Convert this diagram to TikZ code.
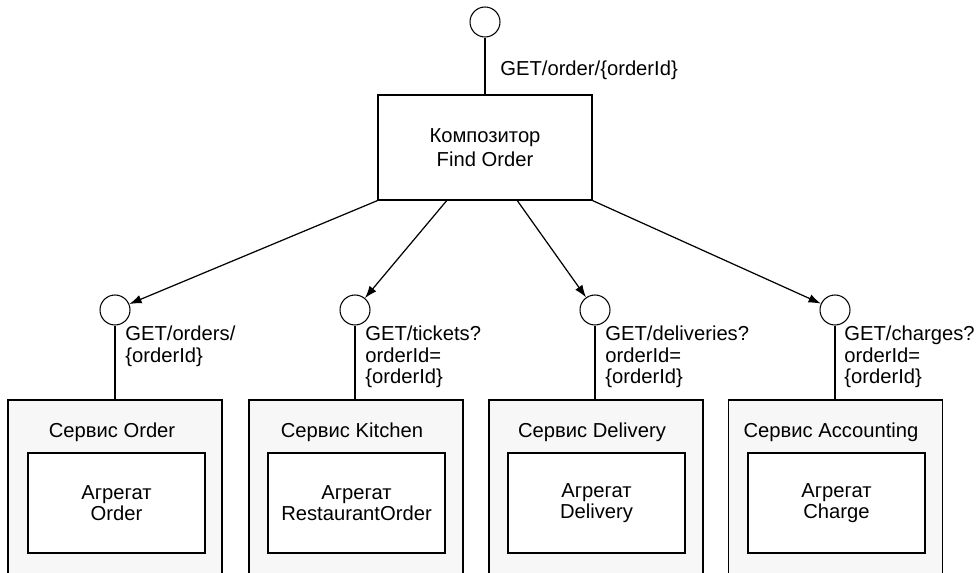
\documentclass[tikz,border=0pt]{standalone}
\usepackage{fontspec}
\setmainfont{Liberation Sans}
\usetikzlibrary{positioning,arrows.meta,calc}
\tikzset{
  >={Latex[length=7pt,width=5pt]},
}

\begin{document}
\begin{tikzpicture}[
  x=0.02cm,y=-0.02cm,
  every node/.style={font=\fontsize{11.5}{12}\selectfont},
  port/.style={draw,circle,minimum size=0.6cm,inner sep=0pt,line width=0.6pt},
  comp/.style={draw,line width=0.7pt,minimum width=4.28cm,minimum height=2.1cm,align=center},
  svc/.style={draw,line width=0.7pt,fill=black!3,minimum width=4.28cm,minimum height=4cm},
  agg/.style={draw,line width=0.7pt,fill=white,minimum width=3.54cm,minimum height=2cm,align=center},
  ttl/.style={inner sep=0pt},
  lab/.style={align=left,inner sep=0pt,anchor=north west},
  wire/.style={line width=0.6pt},
  call/.style={->,line width=0.7pt}
]
\clip (0,0) rectangle (976,573);

% composer
\node[port] (top) at (485,22) {};
\node[comp] (comp) at (485,147.5) {Композитор\\[2pt]Find Order};
\draw[wire] (top) -- (comp);
\node[inner sep=0pt,anchor=west] (toplab) at (500,70) {GET/order/\{orderId\}};

% services
\node[svc] (s1) at (115,500) {};
\node[svc] (s2) at (356,500) {};
\node[svc] (s3) at (596,500) {};
\node[svc] (s4) at (835.5,500) {};

\node[ttl] (t1) at (112,432) {Сервис Order};
\node[ttl] (t2) at (352,432) {Сервис Kitchen};
\node[ttl] (t3) at (592,432) {Сервис Delivery};
\node[ttl] (t4) at (831,432) {Сервис Accounting};

\node[agg] (a1) at (116.5,503) {Агрегат\\Order};
\node[agg] (a2) at (356.5,503) {Агрегат\\RestaurantOrder};
\node[agg] (a3) at (596.5,503) {Агрегат\\Delivery};
\node[agg] (a4) at (836.5,503) {Агрегат\\Charge};

% ports of the services
\node[port] (p1) at (115,310) {};
\node[port] (p2) at (355,310) {};
\node[port] (p3) at (595,310) {};
\node[port] (p4) at (835,310) {};

\draw[wire] (p1) -- (p1 |- s1.north);
\draw[wire] (p2) -- (p2 |- s2.north);
\draw[wire] (p3) -- (p3 |- s3.north);
\draw[wire] (p4) -- (p4 |- s4.north);

\node[lab] (l1) at (125,326) {GET/orders/\\\{orderId\}};
\node[lab] (l2) at (365,326) {GET/tickets?\\orderId=\\\{orderId\}};
\node[lab] (l3) at (605,326) {GET/deliveries?\\orderId=\\\{orderId\}};
\node[lab] (l4) at (844,326) {GET/charges?\\orderId=\\\{orderId\}};

% calls
\coordinate (c2) at ($(comp.south west)!0.322!(comp.south east)$);
\coordinate (c3) at ($(comp.south west)!0.65!(comp.south east)$);
\draw[call] (comp.south west) -- (p1);
\draw[call] (c2) -- (p2);
\draw[call] (c3) -- (p3);
\draw[call] (comp.south east) -- (p4);
\end{tikzpicture}
\end{document}
